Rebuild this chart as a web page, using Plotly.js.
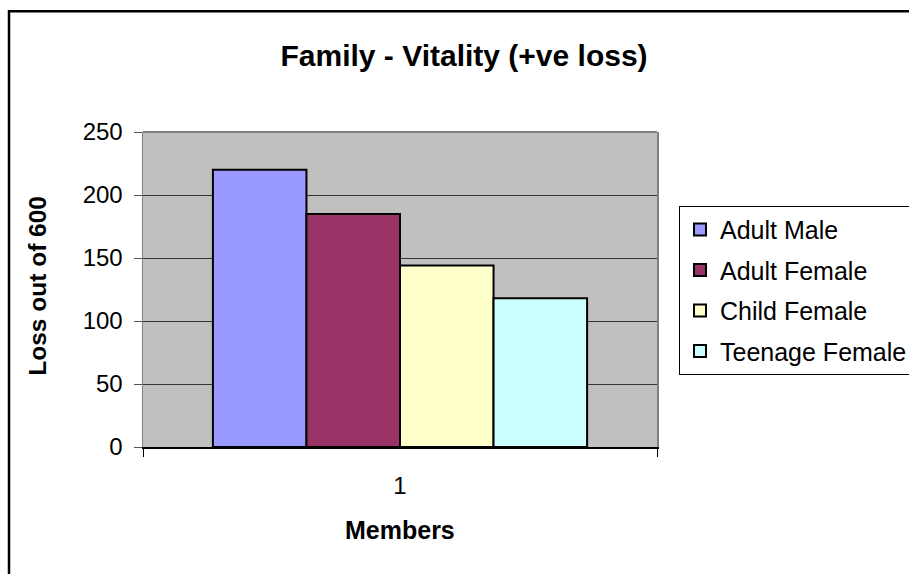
<!DOCTYPE html>
<html>
<head>
<meta charset="utf-8">
<script src="https://cdn.plot.ly/plotly-3.0.1.min.js"></script>
<style>html,body{margin:0;padding:0;background:#fff;}#chart{width:909px;height:574px;}</style>
</head>
<body>
<div id="chart"></div>
<script>
const categories = ['1'];
const seriesNames = ['Adult Male', 'Adult Female', 'Child Female', 'Teenage Female'];
const adultMale = [220];
const adultFemale = [185];
const childFemale = [144];
const teenageFemale = [118];
const yTicks = [0, 50, 100, 150, 200, 250];

const seriesValues = [adultMale, adultFemale, childFemale, teenageFemale];
const colors = ['#9999FF', '#993366', '#FFFFCC', '#CCFFFF'];
const FONT = 'Liberation Sans, Arial, sans-serif';

const traces = seriesNames.map((name, i) => ({
  type: 'bar',
  name: name,
  x: categories,
  y: seriesValues[i],
  marker: {color: colors[i], line: {color: '#000000', width: 2}},
  legendgroup: 'g' + i
}));

const layout = {
  width: 909, height: 574,
  margin: {l: 143, r: 252, t: 132, b: 126.5, pad: 0, autoexpand: false},
  paper_bgcolor: '#ffffff',
  plot_bgcolor: '#C0C0C0',
  font: {family: FONT, color: '#000000'},
  barmode: 'group',
  bargap: 0.272,
  bargroupgap: 0,
  showlegend: true,
  title: {
    text: '<b>Family - Vitality (+ve loss)</b>',
    font: {family: FONT, size: 30, color: '#000000'},
    x: 0.5105, xanchor: 'center', xref: 'container',
    y: 0.904, yanchor: 'middle', yref: 'container'
  },
  xaxis: {
    type: 'category',
    showgrid: false,
    showline: true, linecolor: '#000000', linewidth: 1.5,
    ticks: 'outside', ticklen: 8, tickcolor: '#000000', tickwidth: 1,
    tickson: 'boundaries',
    tickfont: {family: FONT, size: 24, color: '#000000'},
    ticklabelstandoff: 17,
    zeroline: false
  },
  yaxis: {
    range: [0, 250],
    tickvals: yTicks,
    ticktext: yTicks.map(String),
    showgrid: true, gridcolor: '#333333', gridwidth: 1,
    showline: true, linecolor: '#808080', linewidth: 1.5, mirror: true,
    ticks: 'outside', ticklen: 8, tickcolor: '#555555', tickwidth: 1,
    tickfont: {family: FONT, size: 24, color: '#000000'},
    ticklabelstandoff: 6,
    zeroline: false
  },
  legend: {
    x: 1.0428, xanchor: 'left', y: 0.7655, yanchor: 'top',
    bgcolor: '#ffffff', bordercolor: '#000000', borderwidth: 1,
    font: {family: FONT, size: 25, color: '#000000'},
    traceorder: 'grouped', tracegroupgap: 5,
    itemwidth: 30
  },
  annotations: [
    {text: '<b>Loss out of 600</b>', xref: 'paper', yref: 'paper', x: -0.2043, y: 0.512,
     xanchor: 'center', yanchor: 'middle', textangle: -90, showarrow: false,
     font: {family: FONT, size: 24.5, color: '#000000'}},
    {text: '<b>Members</b>', xref: 'paper', yref: 'paper', x: 0.5, y: -0.2647,
     xanchor: 'center', yanchor: 'middle', showarrow: false,
     font: {family: FONT, size: 25, color: '#000000'}}
  ],
  shapes: [
    {type: 'line', xref: 'paper', yref: 'paper', x0: 0, x1: 1, y0: 1, y1: 1,
     line: {color: '#808080', width: 2}},
    {type: 'rect', xref: 'paper', yref: 'paper', x0: -0.2607, x1: 1.6, y0: -0.6, y1: 1.3835,
     line: {color: '#000000', width: 2.5}, layer: 'above'}
  ]
};

Plotly.newPlot('chart', traces, layout, {displayModeBar: false, staticPlot: true});
</script>
</body>
</html>
